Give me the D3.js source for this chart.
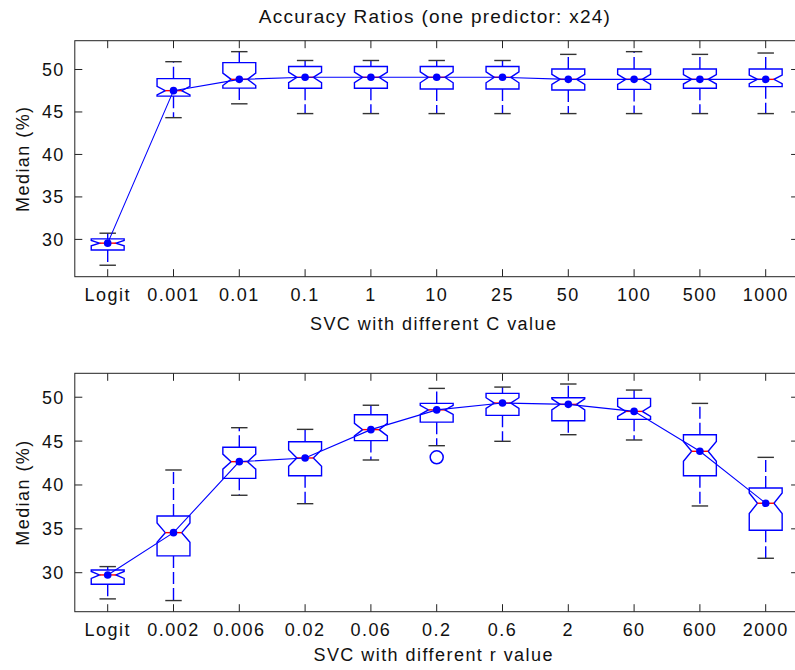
<!DOCTYPE html>
<html>
<head>
<meta charset="utf-8">
<script src="https://cdn.jsdelivr.net/npm/d3@7"></script>
<style>
  html, body { margin: 0; padding: 0; background: #fff; }
  svg { display: block; font-family: "Liberation Sans", Arial, sans-serif; }
  .label { font-size: 18px; letter-spacing: 1.45px; fill: #111; }
  .title { font-size: 19px; letter-spacing: 1.25px; fill: #111; }
</style>
</head>
<body>
<svg id="chart" width="795" height="670"></svg>
<script>
// Top panel: SVC with different C value
const cCategories = ["Logit", "0.001", "0.01", "0.1", "1", "10", "25", "50", "100", "500", "1000"];
const cWhiskerLo = [26.9, 44.27, 45.9, 44.75, 44.75, 44.75, 44.75, 44.75, 44.75, 44.75, 44.75];
const cQ1 = [28.7, 46.8, 47.75, 47.73, 47.73, 47.65, 47.65, 47.53, 47.6, 47.73, 47.92];
const cMedian = [29.5, 47.45, 48.78, 49.02, 49.02, 49.02, 49.02, 48.78, 48.78, 48.78, 48.78];
const cQ3 = [30.0, 48.86, 50.75, 50.3, 50.3, 50.3, 50.3, 50.0, 50.0, 50.0, 50.0];
const cWhiskerHi = [30.67, 50.86, 52.04, 51.0, 51.0, 51.0, 51.0, 51.72, 52.04, 51.72, 51.88];
const cOutliers = [];

// Bottom panel: SVC with different r value
const rCategories = ["Logit", "0.002", "0.006", "0.02", "0.06", "0.2", "0.6", "2", "60", "600", "2000"];
const rWhiskerLo = [26.96, 26.77, 38.77, 37.81, 42.79, 44.42, 44.92, 45.67, 45.07, 37.55, 31.59];
const rQ1 = [28.63, 31.86, 40.7, 41.0, 45.0, 47.1, 47.88, 47.27, 47.42, 41.0, 34.78];
const rMedian = [29.69, 34.51, 42.6, 43.02, 46.25, 48.5, 49.28, 49.13, 48.33, 43.78, 37.86];
const rQ3 = [30.26, 36.41, 44.24, 44.87, 47.95, 49.24, 50.38, 49.89, 49.81, 45.67, 39.6];
const rWhiskerHi = [30.64, 41.65, 46.47, 46.28, 49.03, 50.95, 51.1, 51.45, 50.76, 49.24, 43.09];
const rOutliers = [{ category: "0.2", value: 43.1 }];

const yTicks = [30, 35, 40, 45, 50];
const sampleSize = 42; // runs per setting, used for the notch width

const $svg = d3.select("svg#chart");

function drawPanel(opts) {
  const { top, bottom, left, right, yDomain, categories, xLabel, labelY } = opts;

  const x = d3.scaleBand().domain(categories).range([left, right]).padding(0);
  const y = d3.scaleLinear().domain(yDomain).range([bottom, top]);
  const bw = x.bandwidth();
  const w = bw * 0.25; // half box width
  const cx = (c) => x(c) + bw / 2;

  const boxes = categories.map((c, i) => {
    const iqr = opts.q3[i] - opts.q1[i];
    const notch = (1.57 * iqr) / Math.sqrt(sampleSize);
    return {
      c,
      lo: opts.whiskerLo[i],
      q1: opts.q1[i],
      med: opts.median[i],
      q3: opts.q3[i],
      hi: opts.whiskerHi[i],
      nLo: opts.median[i] - notch,
      nHi: opts.median[i] + notch,
    };
  });

  const $g = $svg.append("g");

  // axes, ticks pointing inward like MATLAB
  const tick = 7.5;
  $g.append("g")
    .attr("transform", `translate(0,${bottom})`)
    .call(d3.axisBottom(x).tickSizeInner(-tick).tickSizeOuter(0).tickPadding(24))
    .call((a) => a.select(".domain").remove())
    .call((a) => a.selectAll(".tick text").attr("dy", 0));
  $g.append("g")
    .attr("transform", `translate(0,${top})`)
    .call(d3.axisTop(x).tickSizeInner(-tick).tickSizeOuter(0).tickFormat(""))
    .call((a) => a.select(".domain").remove());
  $g.append("g")
    .attr("transform", `translate(${left},0)`)
    .call(d3.axisLeft(y).tickValues(yTicks).tickSizeInner(-tick).tickSizeOuter(0).tickPadding(10))
    .call((a) => a.select(".domain").remove())
    .call((a) => a.selectAll(".tick text").attr("dy", "0.36em"));
  $g.append("g")
    .attr("transform", `translate(${right},0)`)
    .call(d3.axisRight(y).tickValues(yTicks).tickSizeInner(-tick).tickSizeOuter(0).tickFormat(""))
    .call((a) => a.select(".domain").remove());

  $g.selectAll(".tick line").attr("stroke", "#222");
  $g.selectAll(".tick text")
    .attr("font-family", null).attr("font-size", null)
    .attr("class", "label");

  $g.append("rect")
    .attr("x", left).attr("y", top)
    .attr("width", right - left).attr("height", bottom - top)
    .attr("fill", "none").attr("stroke", "#222").attr("stroke-width", 1);

  // whiskers
  const $box = $g.append("g").attr("fill", "none").attr("stroke-width", 1.4);
  $box.selectAll(".whisker")
    .data(boxes.flatMap((b) => [[b, b.q3, b.hi], [b, b.q1, b.lo]]))
    .join("line")
    .attr("x1", (d) => cx(d[0].c)).attr("x2", (d) => cx(d[0].c))
    .attr("y1", (d) => y(d[1])).attr("y2", (d) => y(d[2]))
    .attr("stroke", "#0000ff")
    .attr("stroke-dasharray", "12,4");

  $box.selectAll(".cap")
    .data(boxes.flatMap((b) => [[b.c, b.hi], [b.c, b.lo]]))
    .join("line")
    .attr("x1", (d) => cx(d[0]) - w / 2).attr("x2", (d) => cx(d[0]) + w / 2)
    .attr("y1", (d) => y(d[1])).attr("y2", (d) => y(d[1]))
    .attr("stroke", "#333");

  // notched boxes
  $box.selectAll(".box")
    .data(boxes)
    .join("path")
    .attr("stroke", "#0000ff")
    .attr("d", (b) => {
      const xc = cx(b.c);
      const pts = [
        [xc - w, b.q1], [xc - w, b.nLo], [xc - w / 2, b.med], [xc - w, b.nHi], [xc - w, b.q3],
        [xc + w, b.q3], [xc + w, b.nHi], [xc + w / 2, b.med], [xc + w, b.nLo], [xc + w, b.q1],
      ];
      return "M" + pts.map((p) => `${p[0]},${y(p[1])}`).join("L") + "Z";
    });

  $box.selectAll(".median")
    .data(boxes)
    .join("line")
    .attr("x1", (b) => cx(b.c) - w / 2).attr("x2", (b) => cx(b.c) + w / 2)
    .attr("y1", (b) => y(b.med)).attr("y2", (b) => y(b.med))
    .attr("stroke", "#ff0000");

  $box.selectAll(".outlier")
    .data(opts.outliers)
    .join("circle")
    .attr("cx", (d) => cx(d.category)).attr("cy", (d) => y(d.value))
    .attr("r", 6.5)
    .attr("stroke", "#0000ff").attr("stroke-width", 1.5);

  // line through the medians
  $g.append("path")
    .datum(boxes)
    .attr("fill", "none").attr("stroke", "#0000ff").attr("stroke-width", 1.1)
    .attr("d", d3.line().x((b) => cx(b.c)).y((b) => y(b.med)));

  $g.selectAll(".dot")
    .data(boxes)
    .join("circle")
    .attr("cx", (b) => cx(b.c)).attr("cy", (b) => y(b.med))
    .attr("r", 3.8).attr("fill", "#0000ff");

  // labels
  $g.append("text").attr("class", "label")
    .attr("x", (left + right) / 2 - 3).attr("y", labelY)
    .attr("text-anchor", "middle").text(xLabel);
  $g.append("text").attr("class", "label")
    .attr("transform", `translate(29,${(top + bottom) / 2}) rotate(-90)`)
    .attr("text-anchor", "middle").text("Median (%)");
}

drawPanel({
  top: 40.7, bottom: 276.7, left: 74.8, right: 798.6,
  yDomain: [25.55, 53.33],
  categories: cCategories,
  whiskerLo: cWhiskerLo, q1: cQ1, median: cMedian, q3: cQ3, whiskerHi: cWhiskerHi,
  outliers: cOutliers,
  xLabel: "SVC with different C value", labelY: 330,
});

drawPanel({
  top: 373.3, bottom: 611.7, left: 74.8, right: 798.6,
  yDomain: [25.5, 52.67],
  categories: rCategories,
  whiskerLo: rWhiskerLo, q1: rQ1, median: rMedian, q3: rQ3, whiskerHi: rWhiskerHi,
  outliers: rOutliers,
  xLabel: "SVC with different r value", labelY: 661,
});

$svg.append("text").attr("class", "title")
  .attr("x", 435).attr("y", 23)
  .attr("text-anchor", "middle")
  .text("Accuracy Ratios (one predictor: x24)");
</script>
</body>
</html>
